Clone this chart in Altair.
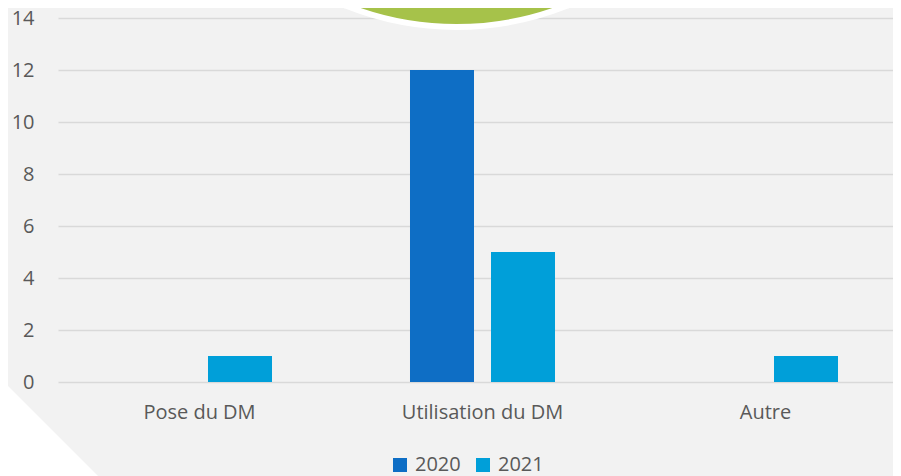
import altair as alt
import pandas as pd

categories = ["Pose du DM", "Utilisation du DM", "Autre"]
years = ["2020", "2021"]
values_2020 = [0, 12, 0]
values_2021 = [1, 5, 1]
colors = ["#0E6EC5", "#009FD9"]
y_ticks = [0, 2, 4, 6, 8, 10, 12, 14]

rows = []
for c, a, b in zip(categories, values_2020, values_2021):
    rows.append({"cat": c, "year": "2020", "val": a})
    rows.append({"cat": c, "year": "2021", "val": b})
df = pd.DataFrame(rows)

FONT = "Open Sans"
TXT = "#595959"

# background decorations (not data)
one = alt.Data(values=[{"k": 1}])
tri = alt.Chart(one).mark_point(
    shape="M -1 -1 L 1 1 L -1 1 Z", filled=True, fill="#ffffff", opacity=1, strokeWidth=0
).encode(x=alt.value(39), y=alt.value(457), size=alt.value(40000))

circle = alt.Chart(one).mark_point(
    shape="circle", filled=True, fill="#A6C24A", stroke="#ffffff", strokeWidth=6, opacity=1
).encode(x=alt.value(398.5), y=alt.value(-289), size=alt.value(596 * 596))

bars = alt.Chart(df).mark_bar().encode(
    x=alt.X("cat:N", sort=categories, title=None,
            scale=alt.Scale(range=[0, 849], paddingInner=0.4876, paddingOuter=0.2438),
            axis=alt.Axis(labelAngle=0, ticks=False, domain=False, labelFont=FONT,
                          labelFontSize=20, labelColor=TXT, labelPadding=20, grid=False)),
    xOffset=alt.XOffset("year:N", sort=years,
                        scale=alt.Scale(paddingInner=0.2099, paddingOuter=0)),
    y=alt.Y("val:Q", title=None,
            scale=alt.Scale(domain=[0, 14], nice=False),
            axis=alt.Axis(values=y_ticks, ticks=False, domain=False, labelFont=FONT,
                          labelFontSize=20, labelColor=TXT, labelPadding=24,
                          gridColor="#d9d9d9", gridWidth=1.5)),
    color=alt.Color("year:N", sort=years, title=None,
                    scale=alt.Scale(domain=years, range=colors),
                    legend=alt.Legend(orient="none", direction="horizontal",
                                      legendX=332, legendY=437, padding=0,
                                      symbolType="square", symbolSize=196,
                                      symbolStrokeWidth=0, labelFont=FONT,
                                      labelFontSize=20, labelColor=TXT,
                                      labelOffset=5, columnPadding=12)),
)

chart = alt.layer(tri, circle, bars).properties(
    width=835, height=364,
    autosize="none",
    padding={"left": 50, "top": 10, "right": 0, "bottom": 94},
    background="#f2f2f2",
).configure_view(stroke=None)

chart.save("out.html", embed_options={"renderer": "svg", "actions": False})
